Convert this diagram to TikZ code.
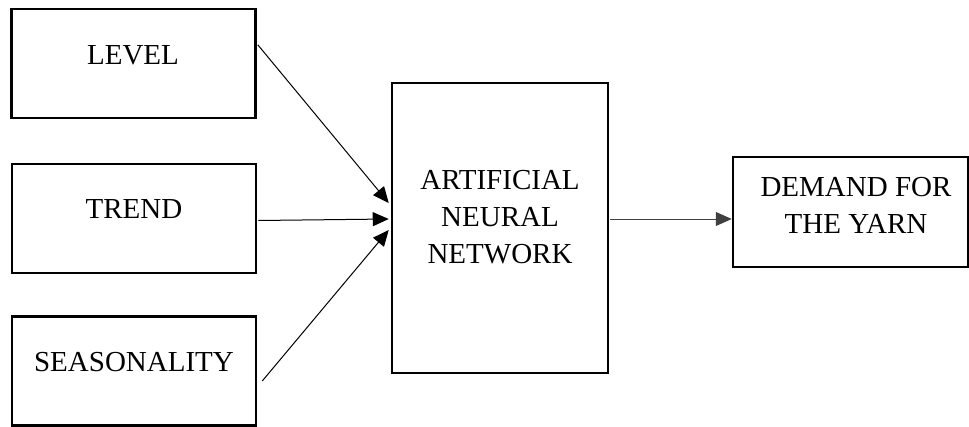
\documentclass[tikz,border=0pt]{standalone}
\usepackage{fontspec}
\setmainfont{Liberation Serif}
\usetikzlibrary{arrows.meta,calc}
\begin{document}
\begin{tikzpicture}[x=1pt,y=-1pt,
  box/.style={draw=black,line width=2.5pt,inner sep=0pt,minimum width=#1},
  lbl/.style={font=\fontsize{29}{37}\selectfont,align=center,inner sep=0pt},
  link/.style={line width=1pt,-{Triangle[length=16pt,width=14pt]}}]
\useasboundingbox (0,0) rectangle (969,426);
% input boxes
\node[box=244,minimum height=109] (level) at (133.5,63.5) {};
\node[box=244,minimum height=109] (trend) at (134,218.5) {};
\node[box=244,minimum height=109] (season) at (134,371) {};
\node[lbl] (levelt) at (133,55) {LEVEL};
\node[lbl] (trendt) at (134,209) {TREND};
\node[lbl] (seasont) at (134,362) {SEASONALITY};
% network box
\node[box=216,minimum height=290] (ann) at (500,228) {};
\node[lbl] (annt) at (500,217) {ARTIFICIAL\\NEURAL\\NETWORK};
% output box
\node[box=235,minimum height=110] (demand) at (850.5,212) {};
\node[lbl] (demandt) at (856,205) {DEMAND FOR\\THE YARN};
% connectors
\coordinate (inA) at ($(ann.west)+(-2,-25)$);
\coordinate (inB) at ($(ann.west)+(-2,-9)$);
\coordinate (inC) at ($(ann.west)+(-2,2)$);
\draw[link] ($(level.north east)+(1,37)$) -- (inA);
\draw[link] ($(trend.east)+(1,2)$) -- (inB);
\draw[link] ($(season.east)+(5,10)$) -- (inC);
\draw[link,draw=black!75] ($(ann.east)+(1,-9)$) -- ($(demand.west)+(0,7)$);
\end{tikzpicture}
\end{document}
